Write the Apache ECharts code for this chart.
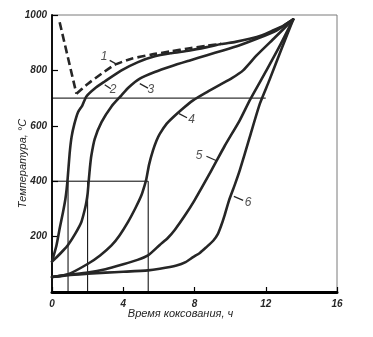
<!DOCTYPE html>
<html>
<head>
<meta charset="utf-8">
<script src="https://cdn.jsdelivr.net/npm/echarts@6/dist/echarts.min.js"></script>
<style>
  html, body { margin: 0; padding: 0; background: #fff; }
  #chart { width: 373px; height: 337px; }
</style>
</head>
<body>
<div id="chart"></div>
<script>
// Coking time (h) vs temperature (°C) for six charge layers

// Curve 1 (dashed): wall-side gas temperature, drop then rise
const curve1 = [[0.43, 974], [1.37, 716], [2.02, 752], [2.78, 788], [3.52, 820], [4.46, 842],
  [5.58, 857], [6.6, 868], [7.74, 880], [8.7, 889], [9.5, 896]];

const curve2 = [[0, 110], [0.25, 168], [0.43, 229], [0.62, 289], [0.75, 335], [0.82, 370],
  [0.88, 410], [0.99, 500], [1.1, 560], [1.25, 605], [1.46, 649], [1.7, 673], [1.93, 706],
  [2.4, 735], [2.96, 760], [3.9, 800], [4.83, 830], [5.77, 851], [6.7, 862], [7.74, 872],
  [8.7, 884], [9.5, 895], [10.3, 903], [11.1, 914], [11.8, 927], [12.4, 944], [13.0, 962],
  [13.54, 984]];

const curve3 = [[0, 110], [0.3, 128], [0.6, 148], [0.9, 170], [1.3, 210], [1.65, 253],
  [1.85, 300], [1.93, 325], [2.0, 355], [2.06, 400], [2.13, 450], [2.21, 493], [2.4, 553],
  [2.78, 613], [3.34, 670], [3.9, 710], [4.3, 738], [4.93, 770], [5.77, 794], [6.7, 815],
  [7.74, 836], [8.7, 855], [9.6, 872], [10.5, 890], [11.5, 914], [12.6, 944], [13.54, 984]];

const curve4 = [[0, 54], [0.9, 64], [2.02, 102], [2.7, 132], [3.34, 168], [3.8, 205],
  [4.27, 253], [4.7, 305], [5.02, 349], [5.2, 385], [5.3, 409], [5.45, 460], [5.67, 511],
  [5.87, 547], [6.05, 571], [6.43, 607], [6.8, 631], [7.3, 660], [7.92, 692], [8.7, 722],
  [9.42, 748], [10.1, 772], [10.73, 800], [11.5, 855], [12.5, 918], [13.54, 984]];

const curve5 = [[0, 54], [0.9, 62], [2.0, 70], [3.0, 82], [4.0, 100], [4.8, 116], [5.39, 132],
  [6.05, 170], [6.5, 195], [6.9, 225], [7.45, 275], [8.0, 331], [8.95, 439], [9.7, 528],
  [10.54, 620], [11.1, 692], [12.04, 800], [12.8, 890], [13.54, 984]];

const curve6 = [[0, 54], [0.9, 61], [2.0, 66], [3.0, 70], [4.0, 73], [5.39, 78], [6.05, 84],
  [6.99, 96], [7.5, 108], [7.92, 126], [8.3, 141], [8.67, 162], [9.05, 185], [9.3, 208],
  [9.5, 240], [9.68, 275], [9.94, 331], [10.25, 385], [10.54, 439], [11.1, 559],
  [11.67, 680], [12.2, 764], [12.9, 880], [13.54, 984]];

// Reference levels and the times at which curves 2, 3, 4 reach 400 °C
const levelHigh = 700;
const levelHighEnd = 12;
const level400 = 400;
const crossTimes = [0.9, 2.0, 5.4];

// Curve numbers and their leader strokes (data units)
const labelTexts = ['1', '2', '3', '4', '5', '6'];
const labelPos = [[2.92, 851], [3.43, 731], [5.55, 731], [7.83, 622], [8.26, 493], [11.01, 322]];
const leaderFrom = [[3.24, 836], [2.96, 748], [4.93, 752], [7.13, 644], [8.67, 490], [10.21, 345]];
const leaderTo = [[3.67, 821], [3.3, 734], [5.39, 736], [7.58, 629], [9.27, 473], [10.73, 331]];

const ink = '#262626';
const font = 'Liberation Sans';

function curve(data, opts) {
  return Object.assign({
    type: 'line', data: data, showSymbol: false, symbol: 'none',
    smooth: 0.2, silent: true, z: 3,
    lineStyle: { color: ink, width: 2.6, cap: 'round', join: 'round' }
  }, opts || {});
}
function thin(data) {
  return {
    type: 'line', data: data, showSymbol: false, symbol: 'none', silent: true, z: 2,
    lineStyle: { color: '#000', width: 1 }
  };
}

const series = [];
// dashed curve 1: straight fall, then smooth rise
series.push(curve(curve1.slice(0, 2), { smooth: false, lineStyle: { color: ink, width: 2.6, type: [8, 4] } }));
series.push(curve(curve1.slice(1), { lineStyle: { color: ink, width: 2.6, type: [8, 4] } }));
[curve2, curve3, curve4, curve5, curve6].forEach(c => series.push(curve(c)));

series.push(thin([[0, levelHigh], [levelHighEnd, levelHigh]]));
series.push(thin([[0, level400], [crossTimes[crossTimes.length - 1], level400]]));
crossTimes.forEach(t => series.push(thin([[t, 0], [t, level400]])));

leaderFrom.forEach((p, i) => series.push({
  type: 'line', data: [p, leaderTo[i]], showSymbol: false, symbol: 'none', silent: true, z: 3,
  lineStyle: { color: ink, width: 1.3 }
}));

series.push({
  type: 'scatter', symbolSize: 0, silent: true, z: 4,
  data: labelPos.map((p, i) => [p[0], p[1], labelTexts[i]]),
  label: {
    show: true, position: 'inside', formatter: p => p.value[2],
    fontFamily: font, fontStyle: 'italic', fontSize: 12, color: ink
  }
});

const chart = echarts.init(document.getElementById('chart'), null, { renderer: 'canvas' });
chart.setOption({
  animation: false,
  backgroundColor: '#fff',
  grid: { left: 52, right: 36, top: 15, bottom: 45, show: true, borderColor: '#7a7a7a', borderWidth: 1 },
  xAxis: {
    type: 'value', min: 0, max: 16, interval: 4,
    name: 'Время коксования, ч', nameLocation: 'middle', nameGap: 16, nameMoveOverlap: false,
    nameTextStyle: { fontFamily: font, fontStyle: 'italic', fontSize: 11, color: ink, padding: [0, 28, 0, 0] },
    axisLine: { show: true, lineStyle: { color: '#000', width: 3 } },
    axisTick: { show: true, inside: true, length: 5, lineStyle: { color: '#000', width: 1.2 } },
    axisLabel: { margin: 7, fontFamily: font, fontStyle: 'italic', fontWeight: 'bold', fontSize: 10, color: ink },
    splitLine: { show: false }
  },
  yAxis: {
    type: 'value', min: 0, max: 1000, interval: 200,
    name: 'Температура, °С', nameLocation: 'middle', nameGap: 24, nameMoveOverlap: false,
    nameTextStyle: { fontFamily: font, fontStyle: 'italic', fontSize: 11, color: ink, padding: [0, 20, 0, 0] },
    axisLine: { show: true, lineStyle: { color: '#111', width: 2 } },
    axisTick: { show: true, inside: true, length: 6, lineStyle: { color: '#000', width: 1.2 } },
    axisLabel: {
      margin: 5, fontFamily: font, fontStyle: 'italic', fontWeight: 'bold', fontSize: 10, color: ink,
      formatter: v => (v === 0 ? '' : String(v))
    },
    splitLine: { show: false }
  },
  series: series
});
</script>
</body>
</html>
